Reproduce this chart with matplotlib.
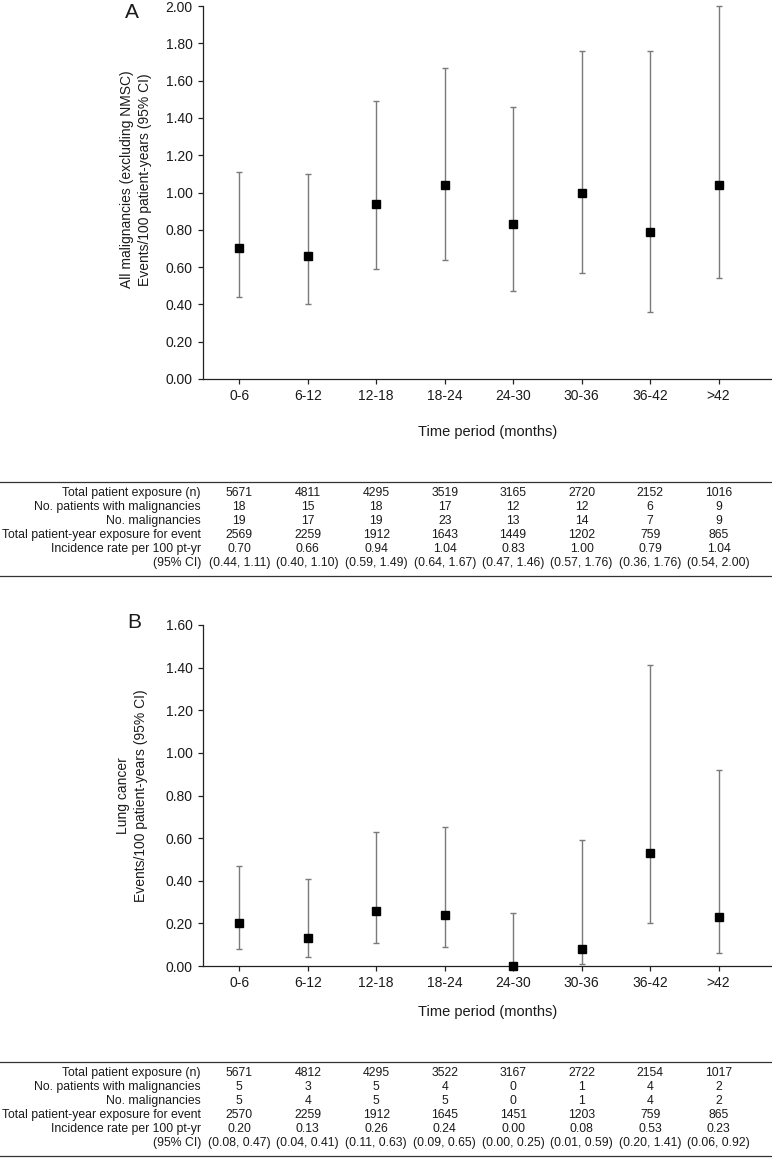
import matplotlib
matplotlib.use("Agg")
import matplotlib.pyplot as plt
from matplotlib.lines import Line2D
from matplotlib import transforms

plt.rcParams['font.family'] = ['Liberation Sans', 'DejaVu Sans']

periods = ["0-6", "6-12", "12-18", "18-24", "24-30", "30-36", "36-42", ">42"]

# Panel A - all malignancies (excluding NMSC)
exposure_a = [5671, 4811, 4295, 3519, 3165, 2720, 2152, 1016]
patients_a = [18, 15, 18, 17, 12, 12, 6, 9]
malig_a = [19, 17, 19, 23, 13, 14, 7, 9]
ptyr_a = [2569, 2259, 1912, 1643, 1449, 1202, 759, 865]
rate_a = [0.70, 0.66, 0.94, 1.04, 0.83, 1.00, 0.79, 1.04]
lo_a = [0.44, 0.40, 0.59, 0.64, 0.47, 0.57, 0.36, 0.54]
hi_a = [1.11, 1.10, 1.49, 1.67, 1.46, 1.76, 1.76, 2.00]

# Panel B - lung cancer
exposure_b = [5671, 4812, 4295, 3522, 3167, 2722, 2154, 1017]
patients_b = [5, 3, 5, 4, 0, 1, 4, 2]
malig_b = [5, 4, 5, 5, 0, 1, 4, 2]
ptyr_b = [2570, 2259, 1912, 1645, 1451, 1203, 759, 865]
rate_b = [0.20, 0.13, 0.26, 0.24, 0.00, 0.08, 0.53, 0.23]
lo_b = [0.08, 0.04, 0.11, 0.09, 0.00, 0.01, 0.20, 0.06]
hi_b = [0.47, 0.41, 0.63, 0.65, 0.25, 0.59, 1.41, 0.92]

row_labels = ["Total patient exposure (n)", "No. patients with malignancies",
              "No. malignancies", "Total patient-year exposure for event",
              "Incidence rate per 100 pt-yr", "(95% CI)"]

W, H = 772, 1158
fig = plt.figure(figsize=(W / 100, H / 100), dpi=100)

def fy(px):
    return 1 - px / H

def panel(rect, rate, lo, hi, ymax, ylabel, letter, letter_y, xlab_y, ylab_x, ylab_c,
          table_top, exposure, patients, malig, ptyr):
    ax = fig.add_axes(rect)
    x = list(range(len(periods)))
    yerr = [[r - l for r, l in zip(rate, lo)], [h - r for r, h in zip(rate, hi)]]
    ax.errorbar(x, rate, yerr=yerr, fmt="none", ecolor="#7a7a7a", elinewidth=1.0,
                capsize=2.3, capthick=1.0, clip_on=False, zorder=2)
    ax.plot(x, rate, "s", color="black", markersize=6.3, clip_on=False, zorder=3)
    ax.set_xlim(-0.53, 7.78)
    ax.set_ylim(0, ymax)
    ticks = [i * 0.2 for i in range(int(round(ymax / 0.2)) + 1)]
    ax.set_yticks(ticks)
    ax.set_yticklabels(["%.2f" % t for t in ticks])
    ax.set_xticks(x)
    ax.set_xticklabels(periods)
    for s in ["top", "right"]:
        ax.spines[s].set_visible(False)
    for s in ["left", "bottom"]:
        ax.spines[s].set_linewidth(0.9)
        ax.spines[s].set_color("#222222")
    ax.tick_params(direction="out", length=3.8, width=0.9, colors="#222222",
                   labelsize=10, pad=3.5, labelcolor="#1a1a1a")
    ax.set_xlabel("Time period (months)", fontsize=10.5, color="#1a1a1a")
    ax.xaxis.label.set_va("center")
    ax_h = rect[3] * H
    ax_bot = (1 - rect[1]) * H
    ax.xaxis.set_label_coords(0.5, -(xlab_y - ax_bot) / ax_h)
    ax.set_ylabel(ylabel, fontsize=10, color="#1a1a1a", linespacing=1.3)
    ax.yaxis.label.set_va("center")
    ax.yaxis.set_label_coords((ylab_x - rect[0] * W) / (rect[2] * W), ylab_c)
    fig.text(letter[1] / W, fy(letter_y), letter[0], fontsize=15, ha="center",
             va="center", color="#1a1a1a")

    # table below the plot
    tr = transforms.blended_transform_factory(ax.transData, fig.transFigure)
    rows = [[str(v) for v in exposure], [str(v) for v in patients],
            [str(v) for v in malig], [str(v) for v in ptyr],
            ["%.2f" % v for v in rate],
            ["(%.2f, %.2f)" % (l, h) for l, h in zip(lo, hi)]]
    for i, lab in enumerate(row_labels):
        y = fy(table_top + 11 + i * 14)
        fig.text(201 / W, y, lab, fontsize=8.8, ha="right", va="center", color="#1a1a1a")
        for j, cell in enumerate(rows[i]):
            fig.text(j, y, cell, fontsize=8.8, ha="center", va="center",
                     transform=tr, color="#1a1a1a")
    for ly in [table_top, table_top + 94]:
        fig.add_artist(Line2D([0, 1], [fy(ly), fy(ly)], transform=fig.transFigure,
                              color="#333333", linewidth=0.9))
    return ax

panel([203 / W, fy(379), 569 / W, 373 / H], rate_a, lo_a, hi_a, 2.0,
      "All malignancies (excluding NMSC)\nEvents/100 patient-years (95% CI)",
      ("A", 132), 13, 432, 136, 0.535, 482, exposure_a, patients_a, malig_a, ptyr_a)

panel([203 / W, fy(966), 569 / W, 341 / H], rate_b, lo_b, hi_b, 1.6,
      "Lung cancer\nEvents/100 patient-years (95% CI)",
      ("B", 134), 623, 1012, 132, 0.5, 1062, exposure_b, patients_b, malig_b, ptyr_b)

fig.savefig("out.png", dpi=100)
